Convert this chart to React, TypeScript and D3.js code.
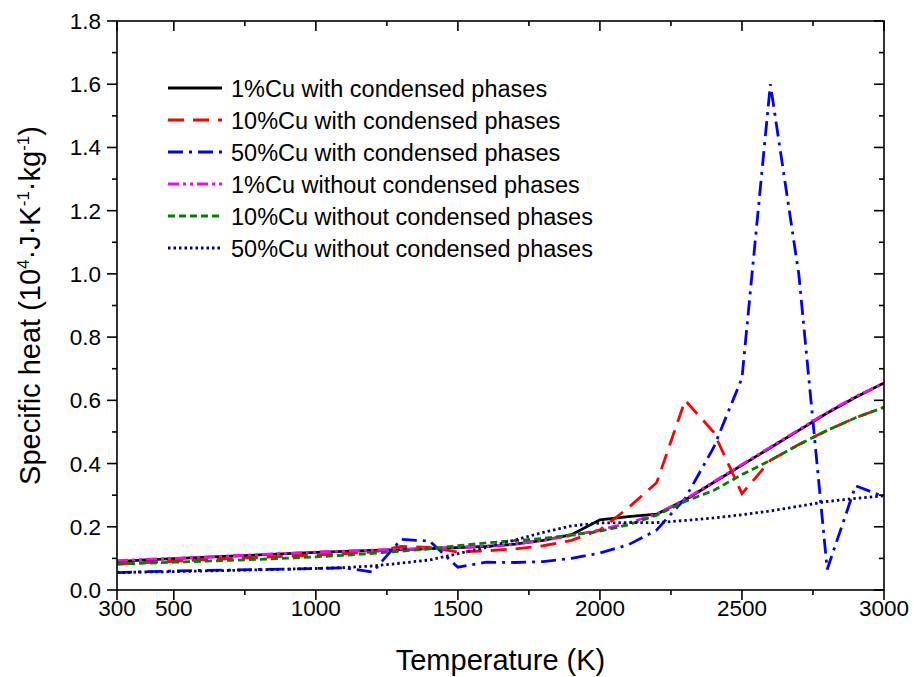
import React from "react";
import * as d3 from "d3";

const temps = [300, 400, 500, 600, 700, 800, 900, 1000, 1100, 1200, 1300, 1400, 1500, 1600, 1700, 1800, 1900, 2000, 2100, 2200, 2300, 2400, 2500, 2600, 2700, 2800, 2900, 3000];

const cu1With = [0.09, 0.095, 0.099, 0.103, 0.107, 0.111, 0.115, 0.119, 0.122, 0.125, 0.128, 0.131, 0.134, 0.138, 0.145, 0.157, 0.175, 0.222, 0.232, 0.24, 0.285, 0.34, 0.395, 0.45, 0.505, 0.56, 0.61, 0.655];
const cu10With = [0.082, 0.087, 0.091, 0.095, 0.099, 0.103, 0.107, 0.111, 0.115, 0.12, 0.138, 0.135, 0.12, 0.124, 0.13, 0.14, 0.157, 0.19, 0.26, 0.34, 0.6, 0.5, 0.305, 0.41, 0.46, 0.505, 0.545, 0.578];
const cu50With = [0.055, 0.058, 0.06, 0.062, 0.063, 0.065, 0.066, 0.068, 0.07, 0.057, 0.16, 0.155, 0.072, 0.088, 0.087, 0.09, 0.1, 0.117, 0.143, 0.19, 0.29, 0.45, 0.67, 1.6, 1.0, 0.065, 0.33, 0.295];
const cu1Without = [0.093, 0.097, 0.1, 0.104, 0.108, 0.112, 0.116, 0.12, 0.123, 0.126, 0.129, 0.132, 0.135, 0.139, 0.145, 0.158, 0.172, 0.19, 0.212, 0.24, 0.287, 0.342, 0.397, 0.452, 0.507, 0.562, 0.612, 0.655];
const cu10Without = [0.082, 0.085, 0.088, 0.091, 0.094, 0.097, 0.101, 0.105, 0.11, 0.116, 0.123, 0.13, 0.14, 0.149, 0.156, 0.163, 0.174, 0.186, 0.206, 0.237, 0.28, 0.315, 0.365, 0.41, 0.46, 0.505, 0.545, 0.578];
const cu50Without = [0.055, 0.057, 0.058, 0.06, 0.062, 0.064, 0.066, 0.068, 0.071, 0.076, 0.085, 0.095, 0.115, 0.135, 0.158, 0.182, 0.203, 0.212, 0.213, 0.213, 0.22, 0.228, 0.238, 0.25, 0.265, 0.28, 0.29, 0.298];

const seriesNames = [
  "1%Cu with condensed phases",
  "10%Cu with condensed phases",
  "50%Cu with condensed phases",
  "1%Cu without condensed phases",
  "10%Cu without condensed phases",
  "50%Cu without condensed phases",
];

const xMajorTicks = [300, 500, 1000, 1500, 2000, 2500, 3000];
const xMinorTicks = [750, 1250, 1750, 2250, 2750];
const yMajorTicks = [0, 0.2, 0.4, 0.6, 0.8, 1.0, 1.2, 1.4, 1.6, 1.8];
const yMinorTicks = [0.1, 0.3, 0.5, 0.7, 0.9, 1.1, 1.3, 1.5, 1.7];

const styles = [
  { color: "#000000", dash: "" },
  { color: "#ff0000", dash: "16 9" },
  { color: "#0000ff", dash: "15 6 3 6" },
  { color: "#ff00ff", dash: "11 4 3 4 3 4" },
  { color: "#008000", dash: "7 4" },
  { color: "#000080", dash: "2.5 3" },
];

export default function App() {
  const W = 914, H = 677;
  const left = 117, right = 884, top = 21, bottom = 590;
  const x = d3.scaleLinear().domain([300, 3000]).range([left, right]);
  const y = d3.scaleLinear().domain([0, 1.8]).range([bottom, top]);
  const line = d3.line<number>().x((_, i) => x(temps[i])).y((d) => y(d));
  const allSeries = [cu1With, cu10With, cu50With, cu1Without, cu10Without, cu50Without];
  const font = "'Liberation Sans', Arial, sans-serif";
  const maj = 10, min = 5;
  const sw = 1.6;
  const tickFs = 22.5;

  return (
    <svg width={W} height={H} style={{ position: "absolute", left: 0, top: 0, background: "#fff" }} fontFamily={font}>
      <rect x={0} y={0} width={W} height={H} fill="#fff" />
      <defs>
        <clipPath id="plot">
          <rect x={left} y={top} width={right - left} height={bottom - top} />
        </clipPath>
      </defs>
      <g clipPath="url(#plot)">
        {allSeries.map((s, i) => (
          <path key={i} d={line(s) || ""} fill="none" stroke={styles[i].color} strokeWidth={2.8} strokeDasharray={styles[i].dash} />
        ))}
      </g>
      <rect x={left} y={top} width={right - left} height={bottom - top} fill="none" stroke="#000" strokeWidth={sw} />
      {xMajorTicks.map((t) => (
        <g key={"xM" + t}>
          <line x1={x(t)} x2={x(t)} y1={bottom} y2={bottom + maj} stroke="#000" strokeWidth={sw} />
          <line x1={x(t)} x2={x(t)} y1={top} y2={top + maj} stroke="#000" strokeWidth={sw} />
          <text x={x(t)} y={bottom + 26} textAnchor="middle" fontSize={tickFs} fill="#000">{t}</text>
        </g>
      ))}
      {xMinorTicks.map((t) => (
        <g key={"xm" + t}>
          <line x1={x(t)} x2={x(t)} y1={bottom} y2={bottom + min} stroke="#000" strokeWidth={sw} />
          <line x1={x(t)} x2={x(t)} y1={top} y2={top + min} stroke="#000" strokeWidth={sw} />
        </g>
      ))}
      {yMajorTicks.map((t) => (
        <g key={"yM" + t}>
          <line x1={left - maj} x2={left} y1={y(t)} y2={y(t)} stroke="#000" strokeWidth={sw} />
          <line x1={right - maj} x2={right} y1={y(t)} y2={y(t)} stroke="#000" strokeWidth={sw} />
          <text x={left - 16} y={y(t) + 8} textAnchor="end" fontSize={tickFs} fill="#000">{t.toFixed(1)}</text>
        </g>
      ))}
      {yMinorTicks.map((t) => (
        <g key={"ym" + t}>
          <line x1={left - min} x2={left} y1={y(t)} y2={y(t)} stroke="#000" strokeWidth={sw} />
          <line x1={right - min} x2={right} y1={y(t)} y2={y(t)} stroke="#000" strokeWidth={sw} />
        </g>
      ))}
      <text x={(left + right) / 2} y={670} textAnchor="middle" fontSize={29} fill="#000">Temperature (K)</text>
      <text transform={`translate(40, ${(top + bottom) / 2}) rotate(-90)`} textAnchor="middle" fontSize={29} fill="#000">
        Specific heat (10<tspan fontSize={17} dy={-11}>4</tspan>
        <tspan dy={11}>·J·K</tspan>
        <tspan fontSize={17} dy={-11}>-1</tspan>
        <tspan dy={11}>·kg</tspan>
        <tspan fontSize={17} dy={-11}>-1</tspan>
        <tspan dy={11}>)</tspan>
      </text>
      {seriesNames.map((n, i) => {
        const ry = 88 + i * 32;
        return (
          <g key={n}>
            <line x1={168} x2={222} y1={ry} y2={ry} stroke={styles[i].color} strokeWidth={2.8} strokeDasharray={styles[i].dash} />
            <text x={231} y={ry + 8.5} fontSize={23.5} fill="#000">{n}</text>
          </g>
        );
      })}
    </svg>
  );
}
